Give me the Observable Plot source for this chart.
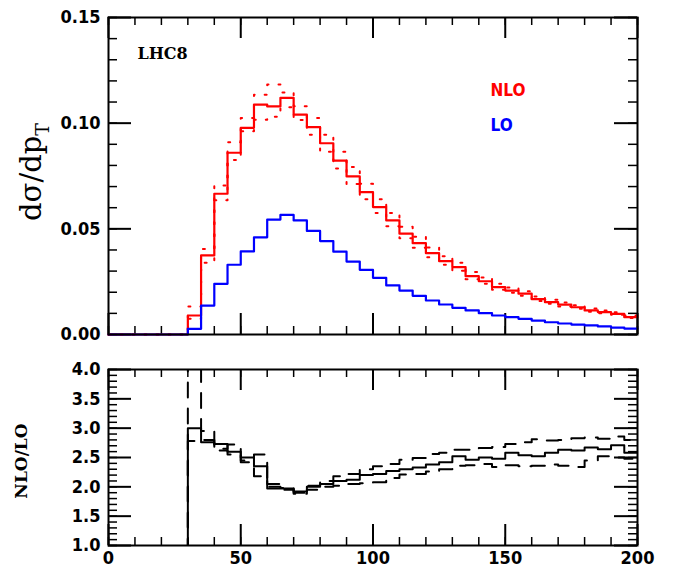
<!DOCTYPE html>
<html>
<head>
<meta charset="utf-8">
<script src="https://cdn.jsdelivr.net/npm/d3@7"></script>
<script src="https://cdn.jsdelivr.net/npm/@observablehq/plot@0.6"></script>
<style>
  body { margin: 0; background: white; }
  #wrap { position: relative; width: 677px; height: 574px; }
  #top, #bot { position: absolute; left: 0; }
  #top { top: 0; }
  #bot { top: 350px; }
</style>
</head>
<body>
<div id="wrap"><div id="top"></div><div id="bot"></div></div>
<script>
// bin lower edges (5 GeV bins, 0..200)
const binLow = [0,5,10,15,20,25,30,35,40,45,50,55,60,65,70,75,80,85,90,95,100,105,110,115,120,125,130,135,140,145,150,155,160,165,170,175,180,185,190,195];
const binHigh = 200;

// top panel: dσ/dpT
const nlo = [0,0,0,0,0,0,0.0090,0.0374,0.0666,0.0860,0.0978,0.1088,0.1079,0.1120,0.1040,0.0981,0.0905,0.0823,0.0748,0.0674,0.0603,0.0540,0.0477,0.0432,0.0385,0.0347,0.0319,0.0276,0.0252,0.0224,0.0208,0.0193,0.0167,0.0153,0.0141,0.0129,0.0114,0.0106,0.0098,0.0082];
const nloUp = [0,0,0,0,0,0,0.0133,0.0405,0.0705,0.0910,0.1024,0.1135,0.1183,0.1145,0.1080,0.1025,0.0945,0.0865,0.0792,0.0713,0.0640,0.0575,0.0510,0.0462,0.0412,0.0370,0.0340,0.0296,0.0270,0.0240,0.0222,0.0205,0.0180,0.0165,0.0152,0.0139,0.0123,0.0114,0.0105,0.0090];
const nloDown = [0,0,0,0,0,0,0.0075,0.0340,0.0635,0.0826,0.0962,0.1016,0.1030,0.1075,0.1015,0.0945,0.0865,0.0785,0.0712,0.0640,0.0575,0.0512,0.0455,0.0410,0.0365,0.0330,0.0302,0.0262,0.0240,0.0212,0.0198,0.0183,0.0158,0.0145,0.0133,0.0122,0.0108,0.0100,0.0093,0.0078];
const lo = [0,0,0,0,0,0,0.0027,0.0137,0.0240,0.0330,0.0393,0.0460,0.0544,0.0566,0.0540,0.0490,0.0442,0.0392,0.0345,0.0306,0.0268,0.0232,0.0208,0.0183,0.0161,0.0142,0.0126,0.0114,0.0101,0.0090,0.0082,0.0074,0.0066,0.0058,0.0052,0.0047,0.0043,0.0038,0.0033,0.0028];

// bottom panel: NLO/LO
const ratio = [0,0,0,0,0,0,3.00,2.76,2.73,2.60,2.50,2.35,1.97,1.97,1.92,2.00,2.05,2.10,2.12,2.20,2.22,2.27,2.30,2.33,2.38,2.42,2.52,2.46,2.50,2.48,2.58,2.54,2.52,2.58,2.63,2.62,2.67,2.64,2.71,2.58];
const ratioA = [0,0,0,0,0,0,5.00,2.95,2.65,2.72,2.45,2.55,2.00,1.98,1.90,2.02,2.10,2.18,2.22,2.30,2.35,2.39,2.46,2.49,2.56,2.58,2.63,2.63,2.66,2.68,2.73,2.76,2.81,2.79,2.80,2.83,2.84,2.82,2.86,2.80];
const ratioB = [0,0,0,0,0,0,2.78,2.80,2.62,2.55,2.42,2.18,2.05,1.95,1.88,1.95,2.00,2.02,2.05,2.06,2.08,2.15,2.21,2.22,2.26,2.30,2.36,2.37,2.39,2.34,2.37,2.35,2.36,2.38,2.36,2.34,2.45,2.52,2.50,2.48];

// tick values
const xMajor = [0,50,100,150,200];
const xLabels = ["0","50","100","150","200"];
const topYMajor = [0,0.05,0.10,0.15];
const topYLabels = ["0.00","0.05","0.10","0.15"];
const botYMajor = [1,1.5,2,2.5,3,3.5,4];
const botYLabels = ["1.0","1.5","2.0","2.5","3.0","3.5","4.0"];
const xMinor = d3.range(0, 201, 10);
const topYMinor = d3.range(0, 0.1501, 0.01);
const botYMinor = d3.range(1, 4.001, 0.1);

function steps(vals) {
  const pts = binLow.map((x, i) => ({x, y: vals[i]}));
  pts.push({x: binHigh, y: vals[vals.length - 1]});
  return pts;
}

const W = 677, ML = 108, MR = 40;
const FW = W - ML - MR;
const XD = [0, 200];

// inward ticks on all four sides; lengths given in pixels, converted to data units
function frameTicks(FH, yDom, yMajor, yMinor) {
  const [ya, yb] = yDom, [xa, xb] = XD;
  const toY = (v) => v * (yb - ya) / FH;
  const toX = (v) => v * (xb - xa) / FW;
  const majX = 21, minX = 8, majY = 23, minY = 9;
  return [
    Plot.ruleX(xMinor, {x: d => d, y1: ya, y2: ya + toY(minX), stroke: "black", strokeWidth: 1.5}),
    Plot.ruleX(xMinor, {x: d => d, y1: yb - toY(minX), y2: yb, stroke: "black", strokeWidth: 1.5}),
    Plot.ruleX(xMajor, {x: d => d, y1: ya, y2: ya + toY(majX), stroke: "black", strokeWidth: 2}),
    Plot.ruleX(xMajor, {x: d => d, y1: yb - toY(majX), y2: yb, stroke: "black", strokeWidth: 2}),
    Plot.ruleY(yMinor, {y: d => d, x1: xa, x2: xa + toX(minY), stroke: "black", strokeWidth: 1.5}),
    Plot.ruleY(yMinor, {y: d => d, x1: xb - toX(minY), x2: xb, stroke: "black", strokeWidth: 1.5}),
    Plot.ruleY(yMajor, {y: d => d, x1: xa, x2: xa + toX(majY), stroke: "black", strokeWidth: 2}),
    Plot.ruleY(yMajor, {y: d => d, x1: xb - toX(majY), x2: xb, stroke: "black", strokeWidth: 2})
  ];
}

const baseStyle = {fontFamily: "'DejaVu Sans Condensed', 'DejaVu Sans', sans-serif", fontSize: "18px", fontWeight: "bold", background: "white", overflow: "visible"};

// ---------- top panel ----------
const topH = 350, topMT = 17, topMB = 16;
const topYDom = [0, 0.15];
const topPlot = Plot.plot({
  width: W, height: topH, marginLeft: ML, marginRight: MR, marginTop: topMT, marginBottom: topMB,
  x: {domain: XD, axis: null},
  y: {domain: topYDom},
  style: baseStyle,
  marks: [
    ...frameTicks(topH - topMT - topMB, topYDom, topYMajor, topYMinor),
    Plot.line(steps(nloUp), {x: "x", y: "y", curve: "step-after", stroke: "#ff0000", strokeWidth: 2, strokeDasharray: "2,10"}),
    Plot.line(steps(nloDown), {x: "x", y: "y", curve: "step-after", stroke: "#ff0000", strokeWidth: 2, strokeDasharray: "2,10"}),
    Plot.line(steps(nlo), {x: "x", y: "y", curve: "step-after", stroke: "#ff0000", strokeWidth: 2.2}),
    Plot.line(steps(lo), {x: "x", y: "y", curve: "step-after", stroke: "#0000ff", strokeWidth: 2.2}),
    Plot.frame({strokeWidth: 2}),
    Plot.axisY({ticks: topYMajor, tickFormat: (d, i) => topYLabels[i], tickSize: 0, tickPadding: 8, label: null}),
    Plot.text(["LHC8"], {text: d => d, frameAnchor: "top-left", dx: 29, dy: 36, textAnchor: "start", lineAnchor: "middle", fontFamily: "'DejaVu Serif', serif", fontSize: 16, fontWeight: "bold"}),
    Plot.text(["NLO"], {text: d => d, frameAnchor: "top-left", dx: 382, dy: 73, textAnchor: "start", lineAnchor: "middle", fontSize: 17, fill: "#ff0000"}),
    Plot.text(["LO"], {text: d => d, frameAnchor: "top-left", dx: 382, dy: 108, textAnchor: "start", lineAnchor: "middle", fontSize: 17, fill: "#0000ff"})
  ]
});
document.getElementById("top").appendChild(topPlot);
{
  const t = d3.select(topPlot).append("text")
    .attr("transform", "translate(33,172) rotate(-90)")
    .attr("text-anchor", "middle")
    .attr("dominant-baseline", "middle")
    .attr("font-family", "'DejaVu Serif', serif")
    .attr("font-weight", "normal")
    .attr("font-size", 29)
    .attr("fill", "black");
  t.append("tspan").text("dσ/dp");
  t.append("tspan").attr("baseline-shift", "sub").attr("font-size", 19).text("T");
}

// ---------- bottom panel ----------
const botH = 224, botMT = 19, botMB = 29;
const botYDom = [1, 4];
const botPlot = Plot.plot({
  width: W, height: botH, marginLeft: ML, marginRight: MR, marginTop: botMT, marginBottom: botMB,
  x: {domain: XD},
  y: {domain: botYDom},
  style: baseStyle,
  marks: [
    ...frameTicks(botH - botMT - botMB, botYDom, botYMajor, botYMinor),
    Plot.line(steps(ratioA), {x: "x", y: "y", curve: "step-after", stroke: "black", strokeWidth: 2, strokeDasharray: "15,11", clip: true}),
    Plot.line(steps(ratioB), {x: "x", y: "y", curve: "step-after", stroke: "black", strokeWidth: 2, strokeDasharray: "15,11", clip: true}),
    Plot.line(steps(ratio), {x: "x", y: "y", curve: "step-after", stroke: "black", strokeWidth: 2, clip: true}),
    Plot.frame({strokeWidth: 2}),
    Plot.axisX({ticks: xMajor, tickFormat: (d, i) => xLabels[i], tickSize: 0, tickPadding: 6, label: null}),
    Plot.axisY({ticks: botYMajor, tickFormat: (d, i) => botYLabels[i], tickSize: 0, tickPadding: 8, label: null})
  ]
});
document.getElementById("bot").appendChild(botPlot);
d3.select(botPlot).append("text")
  .attr("transform", "translate(22,111) rotate(-90)")
  .attr("text-anchor", "middle")
  .attr("dominant-baseline", "middle")
  .attr("font-family", "'DejaVu Serif', serif")
  .attr("font-weight", "bold")
  .attr("font-size", 17)
  .attr("fill", "black")
  .text("NLO/LO");
</script>
</body>
</html>
